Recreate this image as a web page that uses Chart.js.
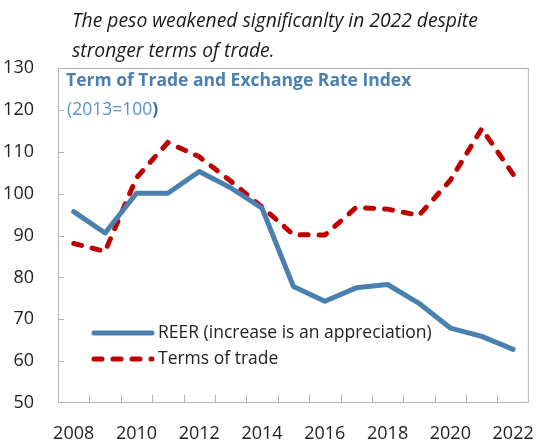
<!DOCTYPE html>
<html>
<head>
<meta charset="utf-8">
<script src="https://cdn.jsdelivr.net/npm/chart.js@4/dist/chart.umd.min.js"></script>
<style>
  body { margin: 0; background: #fff; }
  #wrap { position: relative; width: 546px; height: 444px; }
  #chart { position: absolute; left: 0; top: 0; }
  #title {
    position: absolute; left: 72px; top: 5px;
    font: italic 19.3px "Open Sans", sans-serif; line-height: 30px; color: #1a1a1a;
  }
</style>
</head>
<body>
<div id="wrap">
  <canvas id="chart" width="546" height="444"></canvas>
  <div id="title">The peso weakened significanlty in 2022 despite<br>stronger terms of trade.</div>
</div>
<script>
const years = ["2008","2009","2010","2011","2012","2013","2014","2015","2016","2017","2018","2019","2020","2021","2022"];
const reer = [95.7, 90.6, 100.1, 100.1, 105.3, 101.4, 96.5, 77.8, 74.3, 77.5, 78.3, 73.8, 67.9, 65.9, 62.8];
const tot  = [88.1, 86.2, 103.8, 112.2, 108.8, 103.0, 96.8, 90.2, 90.1, 96.7, 96.3, 94.8, 103.2, 115.5, 104.6];
const yMin = 50, yMax = 130, yStep = 10;

const BLUE = "#4a80ae";
const RED = "#c00000";
const FRAME = "#b4b4b4";

Chart.defaults.font.family = "'Open Sans', sans-serif";
Chart.defaults.font.size = 18;
Chart.defaults.color = "#222";

// frame + inward tick marks, drawn under the lines
const framePlugin = {
  id: "frame",
  beforeDatasetsDraw(chart) {
    const { ctx, chartArea: a, scales: { x, y } } = chart;
    ctx.save();
    ctx.strokeStyle = FRAME;
    ctx.lineWidth = 1;
    ctx.strokeRect(a.left + 0.5, a.top + 0.5, a.right - a.left - 1, a.bottom - a.top - 1);
    ctx.beginPath();
    for (let v = yMin + yStep; v < yMax; v += yStep) {
      const py = Math.round(y.getPixelForValue(v)) + 0.5;
      ctx.moveTo(a.left, py);
      ctx.lineTo(a.left + 6, py);
    }
    for (let i = 1; i < years.length; i++) {
      const px = Math.round((x.getPixelForValue(i - 1) + x.getPixelForValue(i)) / 2) + 0.5;
      ctx.moveTo(px, a.bottom);
      ctx.lineTo(px, a.bottom - 8);
    }
    ctx.stroke();
    ctx.restore();
  }
};

// inner heading and legend
const notesPlugin = {
  id: "notes",
  afterDatasetsDraw(chart) {
    const { ctx, chartArea: a } = chart;
    ctx.save();
    ctx.textBaseline = "middle";
    ctx.textAlign = "left";
    ctx.fillStyle = "#4a7fae";
    ctx.font = "bold 17.5px 'Open Sans', sans-serif";
    ctx.fillText("Term of Trade and Exchange Rate Index", a.left + 8, 81);
    ctx.fillStyle = "#5b93c7";
    ctx.font = "17.5px 'Open Sans', sans-serif";
    ctx.fillText("(2013=100", a.left + 9, 110);
    const w = ctx.measureText("(2013=100").width;
    ctx.fillStyle = "#3f6f9c";
    ctx.font = "bold 17.5px 'Open Sans', sans-serif";
    ctx.fillText(")", a.left + 9 + w, 110);

    const rows = [333, 359];
    chart.data.datasets.forEach((ds, i) => {
      const yy = rows[i];
      ctx.beginPath();
      ctx.strokeStyle = ds.borderColor;
      ctx.lineWidth = ds.borderWidth;
      ctx.lineCap = ds.borderCapStyle || "butt";
      ctx.setLineDash(ds.borderDash || []);
      ctx.moveTo(a.left + 36, yy);
      ctx.lineTo(a.left + 94, yy);
      ctx.stroke();
      ctx.setLineDash([]);
      ctx.fillStyle = "#222";
      ctx.font = "17.5px 'Open Sans', sans-serif";
      ctx.fillText(ds.label, a.left + 100, yy);
    });
    ctx.restore();
  }
};

new Chart(document.getElementById("chart"), {
  type: "line",
  data: {
    labels: years,
    datasets: [
      { label: "REER (increase is an appreciation)", data: reer, borderColor: BLUE,
        borderWidth: 5, pointRadius: 0, tension: 0, borderCapStyle: "round", borderJoinStyle: "round" },
      { label: "Terms of trade", data: tot, borderColor: RED,
        borderWidth: 5, pointRadius: 0, tension: 0, borderDash: [8, 11], borderCapStyle: "round" }
    ]
  },
  options: {
    responsive: false,
    devicePixelRatio: 1,
    animation: false,
    layout: { padding: { left: 0, right: 8, top: 68, bottom: 0 } },
    plugins: { legend: { display: false }, tooltip: { enabled: false }, title: { display: false } },
    scales: {
      x: {
        offset: true,
        grid: { display: false },
        border: { display: false },
        ticks: { padding: 12, maxRotation: 0, autoSkip: false,
          callback: (v, i) => (i % 2 === 0 ? years[i] : "") },
        afterFit: s => { s.height = 41; }
      },
      y: {
        min: yMin, max: yMax,
        grid: { display: false },
        border: { display: false },
        ticks: { stepSize: yStep, padding: 16 },
        afterFit: s => { s.width = 58; }
      }
    }
  },
  plugins: [framePlugin, notesPlugin]
});
</script>
</body>
</html>
